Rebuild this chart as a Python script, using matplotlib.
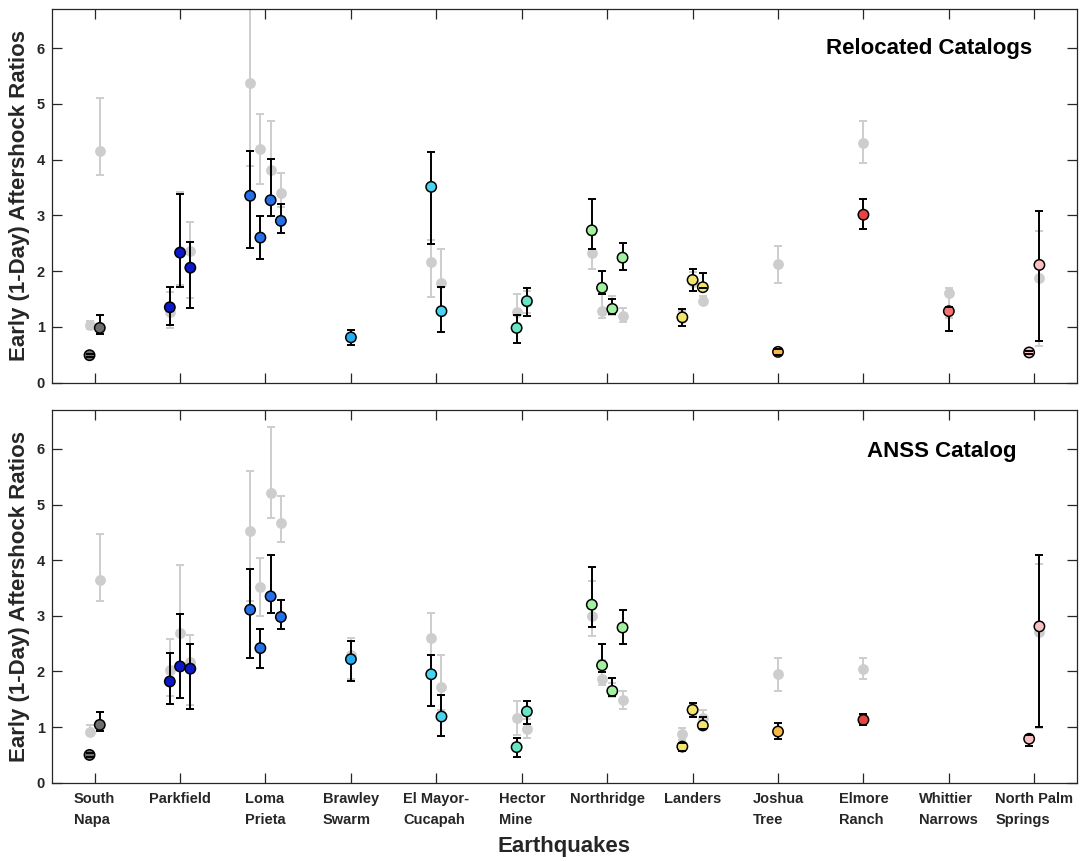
import numpy as np
import matplotlib
matplotlib.use("Agg")
import matplotlib.pyplot as plt

# ---------------- data ----------------
earthquakes = ["South\nNapa", "Parkfield", "Loma\nPrieta", "Brawley\nSwarm",
               "El Mayor-\nCucapah", "Hector\nMine", "Northridge", "Landers",
               "Joshua\nTree", "Elmore\nRanch", "Whittier\nNarrows",
               "North Palm\nSprings"]
n_points = [2, 3, 4, 1, 2, 2, 4, 3, 1, 1, 1, 2]
quake_colors = ["#6e6e6e", "#0b18cc", "#2470e8", "#22aef0", "#48d4f0", "#66e6c4",
                "#a2f0a0", "#f2e46c", "#f8b848", "#e84444", "#f27474", "#f8c0c0"]

nan = np.nan
# Relocated catalogs (top) : coloured values, lower and upper bounds
reloc_val = [0.49, 0.98, 1.35, 2.33, 2.06, 3.35, 2.60, 3.27, 2.90, 0.81,
             3.51, 1.28, 0.98, 1.46, 2.73, 1.70, 1.32, 2.24, 1.17, 1.84, 1.71,
             0.55, 3.01, 1.28, 0.54, 2.11]
reloc_lo = [0.46, 0.87, 1.04, 1.71, 1.33, 2.41, 2.21, 2.98, 2.69, 0.67,
            2.49, 0.90, 0.71, 1.20, 2.39, 1.59, 1.23, 2.01, 1.01, 1.65, 1.69,
            0.50, 2.75, 0.92, 0.51, 0.74]
reloc_hi = [0.52, 1.21, 1.72, 3.39, 2.52, 4.15, 2.98, 4.01, 3.21, 0.95,
            4.13, 1.71, 1.22, 1.70, 3.30, 2.00, 1.49, 2.50, 1.32, 2.03, 1.96,
            0.60, 3.29, 1.35, 0.57, 3.07]
# Relocated catalogs (top) : grey comparison values
reloc_gray_val = [1.04, 4.16, 1.27, 2.36, 2.36, 5.38, 4.19, 3.82, 3.40, nan,
                  2.17, 1.78, 1.26, 1.45, 2.33, 1.29, 1.32, 1.20, 1.15, 1.80, 1.47,
                  2.12, 4.30, 1.60, nan, 1.87]
reloc_gray_lo = [0.96, 3.73, 0.98, 1.75, 1.52, 3.88, 3.57, 3.27, 3.15, nan,
                 1.54, 1.25, 1.05, 1.25, 2.03, 1.15, 1.22, 1.08, 1.02, 1.65, 1.40,
                 1.79, 3.93, 1.15, nan, 0.66]
reloc_gray_hi = [1.11, 5.10, 1.62, 3.41, 2.88, 6.70, 4.81, 4.70, 3.76, nan,
                 2.55, 2.39, 1.58, 1.65, 2.65, 1.58, 1.56, 1.34, 1.28, 1.98, 1.55,
                 2.45, 4.70, 1.70, nan, 2.72]

# ANSS catalog (bottom)
anss_val = [0.50, 1.04, 1.82, 2.09, 2.05, 3.11, 2.42, 3.35, 2.98, 2.22,
            1.95, 1.19, 0.64, 1.28, 3.20, 2.11, 1.65, 2.79, 0.65, 1.31, 1.03,
            0.92, 1.13, nan, 0.79, 2.81]
anss_lo = [0.47, 0.93, 1.41, 1.53, 1.32, 2.24, 2.06, 3.06, 2.76, 1.82,
           1.38, 0.84, 0.47, 1.06, 2.80, 1.99, 1.56, 2.49, 0.57, 1.19, 0.97,
           0.78, 1.03, nan, 0.66, 1.01]
anss_hi = [0.53, 1.28, 2.33, 3.04, 2.50, 3.85, 2.77, 4.10, 3.29, 2.54,
           2.30, 1.58, 0.80, 1.47, 3.88, 2.49, 1.88, 3.10, 0.72, 1.44, 1.18,
           1.07, 1.23, nan, 0.86, 4.09]
anss_gray_val = [0.91, 3.64, 2.03, 2.70, 2.17, 4.53, 3.51, 5.21, 4.67, 2.29,
                 2.60, 1.72, 1.17, 0.97, 3.00, 1.87, 1.65, 1.48, 0.87, 1.30, 1.16,
                 1.95, 2.05, nan, nan, 2.71]
anss_gray_lo = [0.85, 3.26, 1.56, 2.05, 1.40, 3.26, 2.99, 4.76, 4.33, 1.87,
                1.95, 1.30, 0.86, 0.80, 2.63, 1.75, 1.55, 1.33, 0.76, 1.20, 1.05,
                1.65, 1.87, nan, nan, 0.99]
anss_gray_hi = [1.03, 4.48, 2.59, 3.91, 2.65, 5.60, 4.04, 6.40, 5.16, 2.61,
                3.06, 2.30, 1.47, 1.15, 3.63, 2.20, 1.80, 1.65, 0.98, 1.40, 1.31,
                2.25, 2.24, nan, nan, 3.94]

panel_titles = ["Relocated Catalogs", "ANSS Catalog"]

# ---------------- layout helpers ----------------
xs, point_colors = [], []
for g, n in enumerate(n_points):
    for j in range(n):
        xs.append(g + 1 + (j - (n - 1) / 2) * 0.12)
        point_colors.append(quake_colors[g])
xs = np.array(xs)

plt.rcParams['font.family'] = ['Liberation Sans', 'DejaVu Sans']
plt.rcParams['font.weight'] = 'bold'
axcol = '#262626'

fig = plt.figure(figsize=(10.8, 8.61), dpi=100)
ax1 = fig.add_axes([0.0481, 0.5557, 0.9491, 0.43385])
ax2 = fig.add_axes([0.0481, 0.0909, 0.9491, 0.4329])


def draw(ax, val, lo, hi, gval, glo, ghi):
    val, lo, hi = map(np.array, (val, lo, hi))
    gval, glo, ghi = map(np.array, (gval, glo, ghi))
    # grey background points
    ax.errorbar(xs, gval, yerr=[gval - glo, ghi - gval], fmt='o',
                color='#cdcdcd', ms=7.8, mec='none', elinewidth=1.4,
                capsize=3.2, capthick=1.4, zorder=1)
    # coloured points with black bars
    eb = ax.errorbar(xs, val, yerr=[val - lo, hi - val], fmt='none',
                     ecolor='black', elinewidth=1.4, capsize=3.2, capthick=1.4)
    for c in eb[2]:
        c.set_zorder(2)
    for c in eb[1]:
        c.set_zorder(4)
    ax.scatter(xs, val, s=56, c=point_colors, edgecolors='black',
               linewidths=1.1, zorder=3)

    ax.set_xlim(0.5, 12.5)
    ax.set_ylim(0, 6.7)
    ax.set_xticks(np.arange(1, 13))
    ax.set_yticks(np.arange(0, 7))
    ax.tick_params(direction='in', length=7.5, width=0.9, top=True, right=True,
                   labelsize=10.5, color=axcol, labelcolor=axcol, pad=5)
    for s in ax.spines.values():
        s.set_color(axcol)
        s.set_linewidth(0.9)
    ax.set_ylabel("Early (1-Day) Aftershock Ratios", fontsize=16,
                  fontweight='bold', color=axcol, labelpad=5)


draw(ax1, reloc_val, reloc_lo, reloc_hi, reloc_gray_val, reloc_gray_lo, reloc_gray_hi)
draw(ax2, anss_val, anss_lo, anss_hi, anss_gray_val, anss_gray_lo, anss_gray_hi)

ax1.set_xticklabels([])
ax2.set_xticklabels(earthquakes)
for lab in ax2.get_xticklabels():
    lab.set_multialignment('left')
    lab.set_linespacing(1.55)
ax2.tick_params(axis='x', pad=7)
ax2.set_xlabel("Earthquakes", fontsize=16, fontweight='bold', color=axcol,
               labelpad=7)

ax1.text(11.97, 6.0, panel_titles[0], ha='right', va='center', fontsize=16,
         fontweight='bold', color='black')
ax2.text(11.79, 5.96, panel_titles[1], ha='right', va='center', fontsize=16,
         fontweight='bold', color='black')

fig.savefig("out.png", dpi=100)
